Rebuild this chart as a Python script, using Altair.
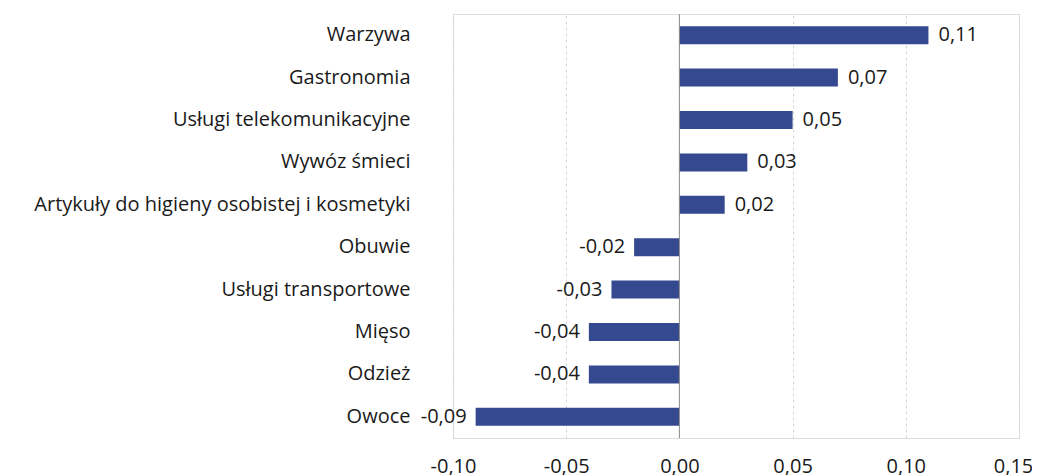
import altair as alt
import pandas as pd

categories = ["Warzywa", "Gastronomia", "Usługi telekomunikacyjne", "Wywóz śmieci",
              "Artykuły do higieny osobistej i kosmetyki", "Obuwie", "Usługi transportowe",
              "Mięso", "Odzież", "Owoce"]
values = [0.11, 0.07, 0.05, 0.03, 0.02, -0.02, -0.03, -0.04, -0.04, -0.09]
x_ticks = [-0.10, -0.05, 0.00, 0.05, 0.10, 0.15]

df = pd.DataFrame({"cat": categories, "val": values})
df["label"] = [f"{v:.2f}".replace(".", ",") for v in values]

FONT = "Open Sans"
COLOR = "#34498f"
FS = 20

xscale = alt.Scale(domain=[-0.10, 0.15], nice=False, zero=False)
yenc = alt.Y("cat:N", sort=categories, title=None,
             scale=alt.Scale(paddingInner=0.575, paddingOuter=0.2875),
             axis=alt.Axis(ticks=False, domain=False, labelPadding=43, labelFontSize=FS,
                           labelFont=FONT, labelColor="#1a1a1a", grid=False, labelLimit=600))

base = alt.Chart(df)

bars = base.mark_bar(color=COLOR, size=18).encode(
    x=alt.X("val:Q", scale=xscale, title=None,
            axis=alt.Axis(values=x_ticks, ticks=False, domain=False, labelPadding=18,
                          labelFlush=False, labelOverlap=False,
                          labelOffset={"condition": {"test": "datum.value > 0.14", "value": -6}, "value": 0},
                          labelFontSize=FS, labelFont=FONT, labelColor="#1a1a1a",
                          grid=True, gridDash=[3, 3], gridColor="#d4d4d4",
                          labelExpr="replace(replace(format(datum.value, '.2f'), '.', ','), '\u2212', '-')")),
    y=yenc,
)

zero = alt.Chart(pd.DataFrame({"z": [0.0]})).mark_rule(color="#8c8c8c", strokeWidth=1).encode(
    x=alt.X("z:Q", scale=xscale)
)

pos = base.transform_filter("datum.val >= 0").mark_text(
    align="left", baseline="middle", dx=10, fontSize=FS, font=FONT, color="#1a1a1a"
).encode(x=alt.X("val:Q", scale=xscale), y=alt.Y("cat:N", sort=categories), text="label:N")

neg = base.transform_filter("datum.val < 0").mark_text(
    align="right", baseline="middle", dx=-9, fontSize=FS, font=FONT, color="#1a1a1a"
).encode(x=alt.X("val:Q", scale=xscale), y=alt.Y("cat:N", sort=categories), text="label:N")

chart = alt.layer(bars, zero, pos, neg).properties(
    width=566, height=424,
    autosize=alt.AutoSizeParams(type="none"),
    padding={"left": 445, "top": 6, "right": 13, "bottom": 37},
).configure_view(stroke=None).configure(background="white")

chart.save("out.html", embed_options={"renderer": "svg", "actions": False})
